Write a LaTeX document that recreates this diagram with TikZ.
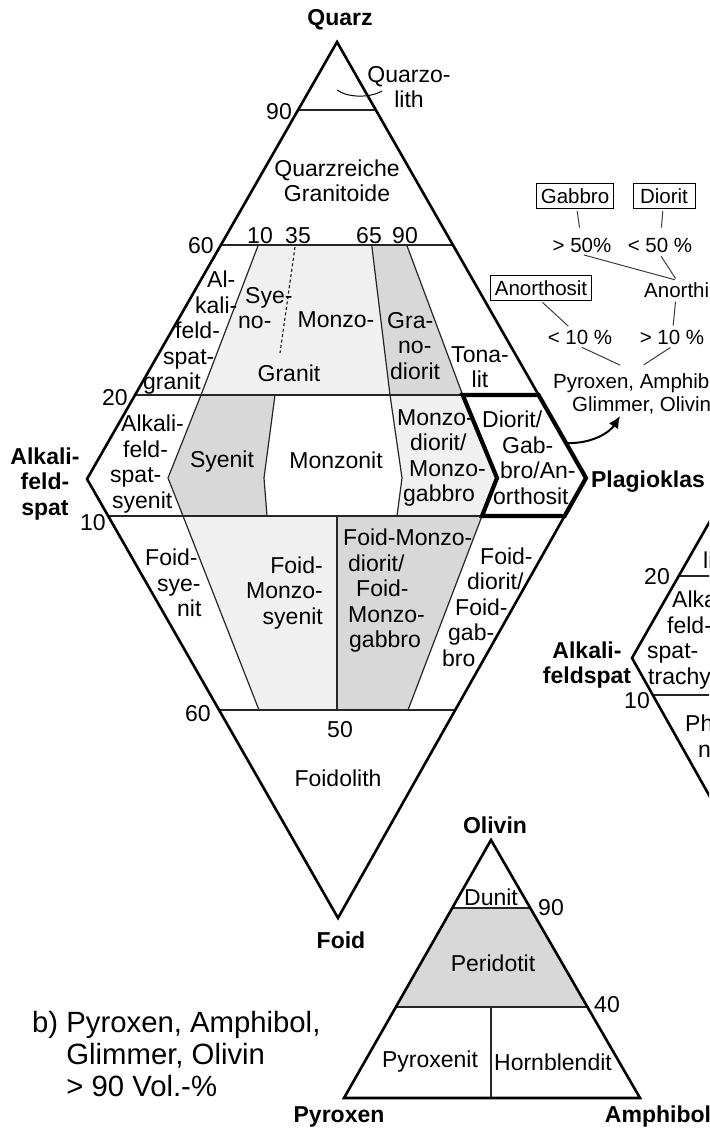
\documentclass[tikz,border=0pt]{standalone}
\usepackage{fontspec}
\setmainfont{Liberation Sans}
\usetikzlibrary{arrows.meta,positioning}
\definecolor{fillLight}{RGB}{240,240,240}
\definecolor{fillDark}{RGB}{216,216,216}
\definecolor{linkGray}{RGB}{60,60,60}

\begin{document}
\begin{tikzpicture}[x=1pt,y=-1pt,
  rim/.style={line width=2.6pt,line join=miter},
  bound/.style={line width=1.2pt,draw=black!85},
  dio/.style={line width=4.2pt,line join=miter},
  zone/.style={font=\fontsize{23}{25.5}\selectfont,inner sep=0pt,align=center},
  apex/.style={font=\fontsize{23}{25.5}\selectfont\bfseries,inner sep=0pt,align=center},
  tick/.style={font=\fontsize{23}{25.5}\selectfont,inner sep=0pt},
  rock/.style={draw,line width=1pt,font=\fontsize{20.5}{22.5}\selectfont,
               inner xsep=4.5pt,inner ysep=0pt,minimum height=25pt},
  pct/.style={font=\fontsize{20.5}{22.5}\selectfont,inner sep=2pt},
  note/.style={font=\fontsize{29.3}{31.7}\selectfont,inner sep=0pt,align=left},
  link/.style={draw=linkGray,line width=1pt,shorten <=2pt,shorten >=2pt},
  arr/.style={-{Latex[length=12pt,width=11pt]},line width=2pt}
]
  \path[use as bounding box,fill=white] (0,0) rectangle (709,1131);
  \clip (0,0) rectangle (709,1131);
  \coordinate (Q) at (337,42);  \coordinate (A) at (87,479);
  \coordinate (P) at (586,478); \coordinate (F) at (338,918);
  % shaded fields
  \fill[fillLight] (258.3,245) -- (371.7,245) -- (390,395) -- (201,395) -- cycle;
  \fill[fillDark] (371.7,245) -- (406.7,245) -- (462.7,395) -- (390,395) -- cycle;
  \fill[fillDark] (201,395) -- (275,395) -- (264,478) -- (267,516) -- (183,516) -- (168,478) -- cycle;
  \fill[fillLight] (390,395) -- (462.7,395) -- (497,478) -- (482,516) -- (397,516) -- (402,478) -- cycle;
  \fill[fillLight] (183,516) -- (337,516) -- (337,710) -- (259,710) -- cycle;
  \fill[fillDark] (337,516) -- (482,516) -- (408,710) -- (337,710) -- cycle;
  % field boundaries
  \draw[bound] (298.1,110) -- (375.8,110);
  \draw[bound] (220.9,245) -- (452.9,245);
  \draw[bound] (135.1,395) -- (462.7,395);
  \draw[bound] (108.2,516) -- (482,516);
  \draw[bound] (219.1,710) -- (455.2,710);
  \draw[bound] (258.3,245) -- (201,395) -- (168,478) -- (183,516) -- (259,710);
  \draw[bound,dash pattern=on 3pt off 2.5pt] (295,247) -- (280,353);
  \draw[bound] (371.7,245) -- (390,395) -- (402,478) -- (397,516);
  \draw[bound] (406.7,245) -- (462.7,395);
  \draw[bound] (275,395) -- (264,478) -- (267,516);
  \draw[bound] (337,516) -- (337,710);
  \draw[bound] (482,516) -- (408,710);
  \draw[rim] (A) -- (Q) -- (P) -- (F) -- cycle;
  \draw[dio] (462.7,395) -- (538.6,395) -- (P) -- (564.6,516) -- (482,516) -- (497,478) -- cycle;
  \coordinate (qlA) at (337,90); \coordinate (qlB) at (382,91);
  \draw[line width=1pt] (qlA) .. controls (348,98) and (370,98) .. (qlB);

  \node[apex] (quarz) at (340,20) {Quarz};
  \node[zone] (quarzolith) at (409,87) {Quarzo-\\lith};
  \node[tick] (t90) at (279,112) {90};
  \node[zone] (qgranit) at (337,181) {Quarzreiche\\Granitoide};
  \node[tick] (t60a) at (201,246) {60};
  \node[tick] (t10a) at (260,236) {10};
  \node[tick] (t35) at (298,236) {35};
  \node[tick] (t65) at (369,236) {65};
  \node[tick] (t90a) at (405,236) {90};
  \node[zone,align=left,anchor=west] (afgranit) at (143,333)
    {\hspace*{64pt}Al-\\\hspace*{52pt}kali-\\\hspace*{32pt}feld-\\\hspace*{20pt}spat-\\granit};
  \node[zone,align=left,anchor=west] (syeno) at (238,308) {\hspace*{7pt}Sye-\\no-};
  \node[zone] (monzo) at (336,320) {Monzo-};
  \node[zone] (granit) at (289,373) {Granit};
  \node[zone,align=left,anchor=west] (granodio) at (387,346) {Gra-\\\hspace*{11pt}no-\\\hspace*{3pt}diorit};
  \node[zone] (tonalit) at (480,367) {Tona-\\lit};
  \node[tick] (t20a) at (115,398) {20};
  \node[apex] (alkfs) at (45,484) {Alkali-\\feld-\\spat};
  \node[zone,align=left,anchor=west] (afsyenit) at (110,464)
    {\hspace*{11pt}Alkali-\\\hspace*{13pt}feld-\\spat-\\\hspace*{2pt}syenit};
  \node[zone] (syenit) at (222,462) {Syenit};
  \node[zone] (monzonit) at (336,460) {Monzonit};
  \node[zone,align=left,anchor=west] (monzodio) at (397,458)
    {Monzo-\\\hspace*{13pt}diorit/\\\hspace*{12pt}Monzo-\\\hspace*{6pt}gabbro};
  \node[zone,align=left,anchor=west] (diogab) at (482,458)
    {Diorit/\\\hspace*{20pt}Gab-\\\hspace*{18pt}bro/An-\\\hspace*{11pt}orthosit};
  \node[apex] (plag) at (648,482) {Plagioklas};
  \node[tick] (t10b) at (93,523) {10};
  \node[zone,align=left,anchor=west] (fsyenit) at (145,583) {Foid-\\\hspace*{12pt}sye-\\\hspace*{32pt}nit};
  \node[zone,align=right,anchor=east] (fmsyenit) at (323,593) {Foid-\\Monzo-\\syenit};
  \node[zone,align=left,anchor=west] (fmdio) at (343,591)
    {Foid-Monzo-\\\hspace*{5pt}diorit/\\\hspace*{13pt}Foid-\\\hspace*{5pt}Monzo-\\\hspace*{6pt}gabbro};
  \node[zone,align=left,anchor=west] (fdio) at (442,607)
    {\hspace*{38pt}Foid-\\\hspace*{25pt}diorit/\\\hspace*{13pt}Foid-\\\hspace*{6pt}gab-\\bro};
  \node[tick] (t60b) at (198,714) {60};
  \node[tick] (t50) at (340,730) {50};
  \node[zone] (foidolith) at (338,778) {Foidolith};
  \node[apex] (foid) at (341,940) {Foid};

  % volcanic diamond, cut by the frame
  \coordinate (R) at (632,658);
  \draw[bound] (678.9,576) -- (720,576);
  \draw[bound] (652.9,695) -- (720,695);
  \draw[rim] (722,500) -- (R) -- (723,820);
  \node[tick] (t20r) at (657,577) {20};
  \node[tick] (t10r) at (637,701) {10};
  \node[apex] (ralkfs) at (587,665) {Alkali-\\feldspat};
  \node[zone,anchor=west] (rli) at (703,560) {li};
  \node[zone,align=left,anchor=west] (rafs) at (647,640)
    {\hspace*{25pt}Alka\\\hspace*{20pt}feld-\\spat-\\\hspace*{1pt}trachy};
  \node[zone,align=left,anchor=west] (rph) at (685,736) {Ph\\\hspace*{13pt}n};

  % plagioclase subdivision
  \node[rock] (gabbro) at (575,196) {Gabbro};
  \node[rock,minimum width=62pt] (diorit) at (664,196) {Diorit};
  \node[pct] (gt50) at (582,245) {> 50\%};
  \node[pct] (lt50) at (660,245) {< 50 \%};
  \node[rock] (anorthosit) at (541,288) {Anorthosit};
  \node[pct,anchor=west] (anorth) at (642,290) {Anorthi};
  \node[pct] (lt10) at (580,337) {< 10 \%};
  \node[pct] (gt10) at (672,337) {> 10 \%};
  \node[pct,inner sep=0pt,align=left,anchor=west] (pyrox) at (553,394)
    {Pyroxen, Amphib\\\hspace*{19pt}Glimmer, Olivin};
  \coordinate (pyL) at (622,366); \coordinate (pyR) at (642,366);
  \draw[link,shorten >=8pt] (gabbro) -- (gt50);
  \draw[link,shorten >=8pt] (diorit) -- (lt50);
  \draw[link] (gt50.south) -- (anorth.north);
  \draw[link] (lt50.south) -- (anorth.north);
  \draw[link] (anorthosit.south) -- (lt10);
  \draw[link] (anorth) -- (gt10);
  \draw[link] (lt10.south) -- (pyL);
  \draw[link] (gt10.south) -- (pyR);
  \coordinate (arrS) at (567,443); \coordinate (arrE) at (620,416);
  \draw[arr] (arrS) .. controls (592,444) and (610,432) .. (arrE);

  % ultramafic triangle
  \coordinate (Ol) at (491,840); \coordinate (Px) at (344,1098); \coordinate (Am) at (640,1098);
  \fill[fillDark] (452.3,908) -- (530.3,908) -- (587.4,1007) -- (395.8,1007) -- cycle;
  \draw[bound] (452.3,908) -- (530.3,908);
  \draw[bound] (395.8,1007) -- (587.4,1007);
  \draw[bound] (491,1007) -- (491,1098);
  \draw[rim] (Ol) -- (Am) -- (Px) -- cycle;
  \node[apex] (olivin) at (495,825) {Olivin};
  \node[zone] (dunit) at (491,897) {Dunit};
  \node[tick] (t90o) at (551,908) {90};
  \node[zone] (peridotit) at (493,963) {Peridotit};
  \node[tick] (t40o) at (607,1005) {40};
  \node[zone] (pyroxenit) at (430,1062) {Pyroxenit};
  \node[zone] (hornbl) at (553,1062) {Hornblendit};
  \node[apex] (pyroxen) at (339,1117) {Pyroxen};
  \node[apex] (amphibol) at (658,1117) {Amphibol};
  \node[note,anchor=west] (legend) at (32,1054)
    {b) Pyroxen, Amphibol,\\\hphantom{b)\ }Glimmer, Olivin\\\hphantom{b)\ }> 90 Vol.-\%};
\end{tikzpicture}
\end{document}
